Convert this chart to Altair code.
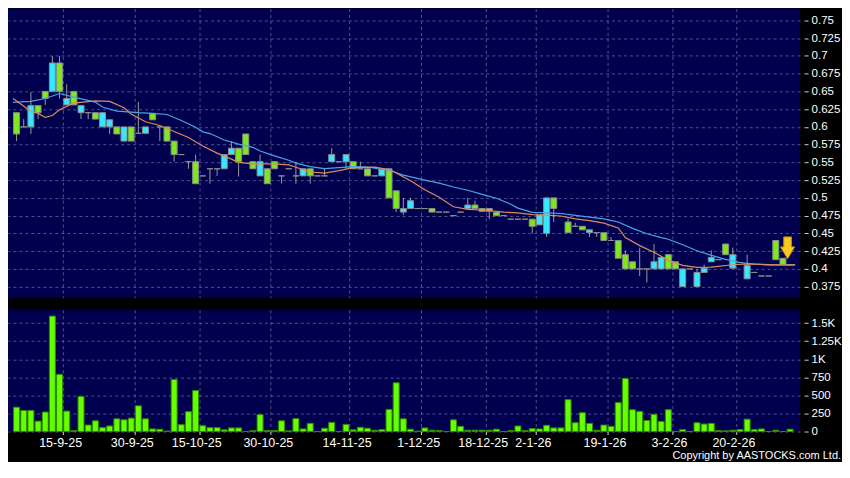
import altair as alt
import pandas as pd

# ---------------- data ----------------
day = list(range(109))
open_ = [0.620, 0.600, 0.600, 0.630, 0.650, 0.650, 0.690, 0.631, 0.650, 0.620,
         0.620, 0.620, 0.600, 0.600, 0.600, 0.580, 0.600, 0.591, 0.591, 0.619,
         0.600, 0.600, 0.580, 0.561, 0.551, 0.551, 0.531, 0.541, 0.541, 0.541,
         0.561, 0.570, 0.590, 0.551, 0.531, 0.541, 0.551, 0.531, 0.541, 0.531,
         0.531, 0.541, 0.531, 0.531, 0.551, 0.551, 0.551, 0.551, 0.541, 0.541,
         0.531, 0.531, 0.541, 0.510, 0.480, 0.485, 0.485, 0.485, 0.485, 0.480,
         0.480, 0.475, 0.480, 0.485, 0.490, 0.485, 0.485, 0.480, 0.475, 0.470,
         0.470, 0.470, 0.470, 0.462, 0.450, 0.500, 0.478, 0.466, 0.460, 0.460,
         0.451, 0.451, 0.451, 0.440, 0.440, 0.420, 0.410, 0.400, 0.400, 0.400,
         0.400, 0.420, 0.410, 0.375, 0.400, 0.375, 0.395, 0.410, 0.413, 0.435,
         0.401, 0.409, 0.386, 0.395, 0.390, 0.390, 0.440, 0.415, 0.406]
high = [0.620, 0.611, 0.649, 0.630, 0.650, 0.700, 0.700, 0.660, 0.650, 0.630,
        0.620, 0.620, 0.620, 0.610, 0.600, 0.600, 0.600, 0.635, 0.600, 0.619,
        0.600, 0.600, 0.580, 0.561, 0.551, 0.561, 0.531, 0.541, 0.541, 0.561,
        0.580, 0.570, 0.590, 0.551, 0.561, 0.541, 0.551, 0.531, 0.541, 0.551,
        0.541, 0.541, 0.531, 0.541, 0.570, 0.551, 0.561, 0.551, 0.551, 0.541,
        0.531, 0.541, 0.541, 0.510, 0.500, 0.500, 0.485, 0.485, 0.485, 0.480,
        0.480, 0.475, 0.480, 0.500, 0.496, 0.485, 0.485, 0.480, 0.475, 0.470,
        0.470, 0.470, 0.470, 0.476, 0.500, 0.500, 0.478, 0.471, 0.465, 0.460,
        0.455, 0.451, 0.451, 0.445, 0.440, 0.426, 0.410, 0.430, 0.400, 0.435,
        0.416, 0.420, 0.410, 0.400, 0.400, 0.400, 0.406, 0.426, 0.413, 0.435,
        0.430, 0.409, 0.420, 0.395, 0.390, 0.390, 0.440, 0.415, 0.406]
low = [0.580, 0.600, 0.590, 0.611, 0.631, 0.650, 0.640, 0.631, 0.631, 0.611,
       0.611, 0.611, 0.600, 0.590, 0.590, 0.580, 0.580, 0.591, 0.591, 0.610,
       0.580, 0.580, 0.551, 0.561, 0.541, 0.520, 0.531, 0.520, 0.531, 0.541,
       0.561, 0.530, 0.561, 0.541, 0.531, 0.520, 0.541, 0.520, 0.541, 0.520,
       0.531, 0.520, 0.531, 0.531, 0.551, 0.551, 0.541, 0.541, 0.541, 0.531,
       0.531, 0.531, 0.500, 0.480, 0.476, 0.485, 0.485, 0.485, 0.480, 0.480,
       0.480, 0.475, 0.480, 0.485, 0.485, 0.480, 0.470, 0.475, 0.475, 0.470,
       0.470, 0.470, 0.450, 0.462, 0.445, 0.466, 0.478, 0.451, 0.460, 0.455,
       0.445, 0.445, 0.440, 0.440, 0.415, 0.400, 0.400, 0.390, 0.381, 0.400,
       0.400, 0.400, 0.400, 0.375, 0.400, 0.375, 0.395, 0.410, 0.413, 0.420,
       0.401, 0.409, 0.386, 0.395, 0.390, 0.390, 0.413, 0.406, 0.406]
close = [0.590, 0.600, 0.630, 0.620, 0.640, 0.690, 0.650, 0.640, 0.631, 0.630,
         0.620, 0.611, 0.620, 0.610, 0.590, 0.600, 0.580, 0.591, 0.600, 0.610,
         0.600, 0.580, 0.561, 0.561, 0.551, 0.520, 0.531, 0.541, 0.541, 0.561,
         0.570, 0.551, 0.561, 0.541, 0.551, 0.520, 0.541, 0.531, 0.541, 0.531,
         0.541, 0.531, 0.531, 0.531, 0.561, 0.551, 0.561, 0.541, 0.541, 0.531,
         0.531, 0.541, 0.500, 0.485, 0.485, 0.496, 0.485, 0.485, 0.480, 0.480,
         0.480, 0.475, 0.480, 0.490, 0.485, 0.481, 0.481, 0.475, 0.475, 0.470,
         0.470, 0.470, 0.460, 0.476, 0.500, 0.485, 0.478, 0.451, 0.460, 0.455,
         0.455, 0.451, 0.440, 0.440, 0.415, 0.400, 0.400, 0.400, 0.400, 0.410,
         0.416, 0.400, 0.400, 0.400, 0.400, 0.395, 0.401, 0.416, 0.413, 0.420,
         0.420, 0.409, 0.405, 0.395, 0.390, 0.390, 0.413, 0.406, 0.406]
volume = [337, 292, 292, 144, 270, 1598, 792, 283, 14, 486,
          90, 149, 54, 77, 176, 162, 185, 356, 176, 36,
          32, 5, 720, 95, 275, 567, 81, 54, 54, 23,
          50, 50, 0, 14, 234, 14, 14, 149, 9, 180,
          36, 113, 0, 45, 126, 0, 99, 23, 59, 45,
          18, 27, 306, 675, 176, 32, 5, 50, 18, 14,
          0, 162, 72, 18, 18, 18, 18, 32, 0, 14,
          77, 14, 41, 36, 86, 50, 50, 441, 122, 261,
          113, 18, 90, 72, 401, 734, 302, 279, 153, 239,
          140, 302, 0, 27, 0, 122, 104, 113, 14, 9,
          18, 27, 171, 27, 36, 0, 18, 0, 32]

# short moving average (orange) and long moving average (blue)
ma_s_day = [-0.5, 2, 3, 4, 5, 6, 8, 11, 13, 15, 16, 18, 20, 22, 24, 26, 28, 30, 31,
            33, 36, 38, 39, 41, 43, 45, 47, 50, 52, 53, 55, 57, 59, 61, 63, 66,
            68, 70, 72, 74, 76, 78, 80, 82, 84, 85, 87, 89, 91, 93, 95, 97, 100,
            102, 104, 106, 108.7]
ma_s_val = [0.640, 0.622, 0.619, 0.6133, 0.616, 0.624, 0.6336, 0.6366, 0.636,
            0.627, 0.618, 0.6073, 0.602, 0.5935, 0.585, 0.573, 0.563, 0.5546,
            0.550, 0.5478, 0.5478, 0.5465, 0.5432, 0.5365, 0.535, 0.5385, 0.5425,
            0.5432, 0.540, 0.535, 0.524, 0.5115, 0.501, 0.4875, 0.4838, 0.4822,
            0.480, 0.4788, 0.4765, 0.4756, 0.4745, 0.4705, 0.468, 0.4645, 0.4576,
            0.4441, 0.4328, 0.4235, 0.412, 0.405, 0.4021, 0.4025, 0.4058, 0.407,
            0.4065, 0.4057, 0.4057]
ma_l_day = [-0.5, 2, 4, 6, 8, 11, 12, 14, 17, 19, 21, 23, 25, 26, 27, 29, 31, 33,
            34, 36, 38, 39, 41, 43, 45, 47, 49, 51, 52, 54, 57, 59, 61, 63, 65,
            67, 69, 70, 72, 74, 76, 78, 80, 82, 84, 86, 88, 90, 91, 93, 95, 97,
            99, 101, 103, 105, 108.7]
ma_l_val = [0.6345, 0.636, 0.640, 0.647, 0.642, 0.635, 0.628, 0.6222, 0.620,
            0.619, 0.6175, 0.609, 0.5996, 0.593, 0.5906, 0.5816, 0.5757, 0.5712,
            0.566, 0.5591, 0.553, 0.549, 0.5441, 0.5412, 0.5425, 0.5441, 0.5435,
            0.540, 0.5389, 0.532, 0.525, 0.5207, 0.5153, 0.5108, 0.505, 0.4995,
            0.491, 0.4856, 0.4795, 0.479, 0.478, 0.4755, 0.473, 0.4705, 0.466,
            0.457, 0.4495, 0.4441, 0.4418, 0.434, 0.4255, 0.419, 0.4135, 0.409,
            0.4066, 0.4057, 0.4057]

date_pos = [6.5, 16.5, 25.5, 35.5, 46.5, 56.5, 65.5, 72.5, 82.5, 91.5, 100.5]
date_lab = ["15-9-25", "30-9-25", "15-10-25", "30-10-25", "14-11-25", "1-12-25",
            "18-12-25", "2-1-26", "19-1-26", "3-2-26", "20-2-26"]
price_ticks = [0.375, 0.4, 0.425, 0.45, 0.475, 0.5, 0.525, 0.55, 0.575, 0.6,
               0.625, 0.65, 0.675, 0.7, 0.725, 0.75]
vol_ticks = [0, 250, 500, 750, 1000, 1250, 1500]
marker_day = [107.65]
marker_price = [0.4296]

# ---------------- styling ----------------
NAVY = "#00004e"
CYAN = "#35e8ff"
GREEN = "#7de81c"
GRAY = "#9a9a9a"
VOLG = "#66ff00"
FONT = "Liberation Sans"

dirs = ["up" if c > o else ("down" if c < o else "flat") for o, c in zip(open_, close)]
candles = pd.DataFrame({"day": day, "open": open_, "high": high, "low": low,
                        "close": close, "volume": volume, "dir": dirs})
ma_s = pd.DataFrame({"day": ma_s_day, "ma": ma_s_val})
ma_l = pd.DataFrame({"day": ma_l_day, "ma": ma_l_val})
marker = pd.DataFrame({"day": marker_day, "price": marker_price})

W = 794
xscale = alt.Scale(domain=[-0.5, 108.7], nice=False, zero=False)
pscale = alt.Scale(domain=[0.3592, 0.7667], nice=False, zero=False)
vscale = alt.Scale(domain=[0, 1685], nice=False)

x_axis_top = alt.Axis(values=date_pos, labels=False, ticks=False, domain=False,
                      grid=True, title=None)
y_axis_top = alt.Axis(orient="right", values=price_ticks, format=".3~f", title=None,
                      offset=4, tickSize=4, labelPadding=3, domain=False, grid=True,
                      labelOverlap=False, labelFlush=False)


def xq():
    return alt.X("day:Q", scale=xscale, axis=x_axis_top, title=None)


def yq(field):
    return alt.Y(field, scale=pscale, axis=y_axis_top, title=None)


base = alt.Chart(candles)
wicks = base.mark_rule(color=GRAY, strokeWidth=1).encode(
    x=xq(), y=yq("low:Q"), y2="high:Q")
bodies = base.mark_bar(size=6, stroke="#8c8c8c", strokeWidth=1).encode(
    x=xq(), y=yq("open:Q"), y2="close:Q",
    color=alt.Color("dir:N", legend=None,
                    scale=alt.Scale(domain=["up", "down", "flat"],
                                    range=[CYAN, GREEN, GRAY])))
line_l = alt.Chart(ma_l).mark_line(color="#45a6e6", strokeWidth=1.2).encode(
    x=xq(), y=yq("ma:Q"))
line_s = alt.Chart(ma_s).mark_line(color="#e08a5c", strokeWidth=1.2).encode(
    x=xq(), y=yq("ma:Q"))
arrow = alt.Chart(marker).mark_point(
    shape="M-0.35,-1 L0.35,-1 L0.35,-0.09 L0.64,-0.09 L0,1 L-0.64,-0.09 L-0.35,-0.09 Z",
    size=484, filled=True, fill="#f7c81e", stroke="#c98a00", strokeWidth=1,
    opacity=1).encode(x=xq(), y=yq("price:Q"))

top = alt.layer(wicks, bodies, line_l, line_s, arrow).properties(width=W, height=290)

vol = base.mark_bar(size=6, color=VOLG, stroke="#2f8a00", strokeWidth=1).encode(
    x=alt.X("day:Q", scale=xscale, title=None,
            axis=alt.Axis(values=date_pos, grid=True, domain=False, tickSize=3,
                          labelOffset=-3, labelPadding=2, labelFontSize=12.5,
                          labelOverlap=False,
                          labelExpr="%s[indexof(%s, datum.value)]" % (
                              str(date_lab).replace("'", '"'), str(date_pos)))),
    y=alt.Y("volume:Q", scale=vscale, title=None,
            axis=alt.Axis(orient="right", values=vol_ticks, offset=4, tickSize=4,
                          labelPadding=3, domain=False, grid=True,
                          labelOverlap=False, labelFlush=False,
                          labelExpr="datum.value >= 1000 ? format(datum.value / 1000, '~g') + 'K' : format(datum.value, 'd')")),
).properties(width=W, height=122)

chart = alt.vconcat(top, vol, spacing=12).properties(
    padding={"left": 0, "top": 0, "right": 0, "bottom": 0},
    title=alt.TitleParams("Copyright by AASTOCKS.com Ltd.", orient="bottom",
                          anchor="end", color="white", fontSize=11, font=FONT,
                          fontWeight="normal", offset=1),
).configure(background="#000000").configure_view(
    fill=NAVY, stroke=None
).configure_axis(
    labelColor="white", labelFont=FONT, labelFontSize=11.5, tickColor="#d0d0d0",
    gridColor="#5a5a96", gridDash=[3, 3], gridWidth=1, gridOpacity=0.9,
    labelOverlap=False,
)

chart.save("out.html", embed_options={"renderer": "svg", "actions": False})
